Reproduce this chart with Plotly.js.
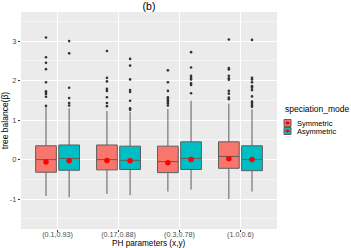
<!DOCTYPE html>
<html>
<head>
<meta charset="utf-8">
<script src="https://cdn.plot.ly/plotly-3.0.1.min.js"></script>
<style>html,body{margin:0;padding:0;background:#fff;}#chart{width:351px;height:248px;}</style>
</head>
<body>
<div id="chart"></div>
<script>
var categories = ["(0.1,0.93)", "(0.17,0.88)", "(0.3,0.78)", "(1.0,0.6)"];
var seriesNames = ["Symmetric", "Asymmetric"];
var seriesColors = ["#F8766D", "#00BFC4"];

var symQ1 = [-0.32, -0.26, -0.33, -0.22];
var symMedian = [0.00, 0.00, -0.05, 0.08];
var symQ3 = [0.35, 0.37, 0.34, 0.45];
var symLower = [-0.92, -0.87, -0.81, -1.00];
var symUpper = [1.32, 1.23, 1.28, 1.42];
var symMean = [-0.06, -0.02, -0.08, 0.02];
var symOutliers = [
  [3.09, 2.59, 2.45, 2.29, 1.96, 1.73, 1.69, 1.66, 1.59, 1.36],
  [2.75, 2.07, 1.98, 1.79, 1.74, 1.58, 1.43, 1.35],
  [2.26, 1.96, 1.74, 1.58, 1.54, 1.50, 1.46, 1.42, 1.37],
  [3.04, 2.32, 2.28, 2.12, 2.06, 2.02, 1.74, 1.67, 1.57, 1.53]
];

var asyQ1 = [-0.27, -0.25, -0.25, -0.28];
var asyMedian = [0.03, -0.02, 0.03, 0.00];
var asyQ3 = [0.37, 0.34, 0.45, 0.35];
var asyLower = [-0.95, -0.90, -0.76, -0.81];
var asyUpper = [1.30, 1.20, 1.49, 1.27];
var asyMean = [-0.03, -0.03, 0.00, 0.00];
var asyOutliers = [
  [3.00, 2.69, 1.82, 1.56, 1.43, 1.37],
  [2.55, 2.38, 2.03, 1.76, 1.71, 1.49, 1.30, 1.26],
  [2.72, 2.33, 2.12, 2.07, 2.03, 1.93, 1.89, 1.68],
  [3.03, 2.07, 2.03, 1.96, 1.86, 1.82, 1.76, 1.60, 1.47, 1.43, 1.38, 1.34]
];

var yTickVals = [-1, 0, 1, 2, 3];

var series = [
  {q1: symQ1, med: symMedian, q3: symQ3, lo: symLower, hi: symUpper, mean: symMean, out: symOutliers},
  {q1: asyQ1, med: asyMedian, q3: asyQ3, lo: asyLower, hi: asyUpper, mean: asyMean, out: asyOutliers}
];
var dodge = [-0.19, 0.19];
var boxW = 0.34;

var traces = [];
series.forEach(function (s, si) {
  var xs = categories.map(function (c, i) { return i + 1 + dodge[si]; });
  traces.push({
    type: 'box', name: seriesNames[si], x: xs,
    q1: s.q1, median: s.med, q3: s.q3, lowerfence: s.lo, upperfence: s.hi,
    width: boxW, fillcolor: seriesColors[si],
    line: {color: '#5e5e5e', width: 1}, boxpoints: false,
    whiskerwidth: 0, showlegend: false, hoverinfo: 'skip'
  });
  var ox = [], oy = [];
  s.out.forEach(function (arr, i) {
    arr.forEach(function (v) { ox.push(xs[i]); oy.push(v); });
  });
  traces.push({
    type: 'scatter', mode: 'markers', x: ox, y: oy,
    marker: {color: '#333333', size: 2.6, symbol: 'circle'},
    showlegend: false, hoverinfo: 'skip'
  });
  traces.push({
    type: 'scatter', mode: 'markers', x: xs, y: s.mean,
    marker: {color: '#FF0000', size: 5.5, symbol: 'circle'},
    showlegend: false, hoverinfo: 'skip'
  });
});

// plot area in pixels
var L = 21, R = 277, T = 12, B = 229, W = 351, H = 248;
function px(x) { return (x - L) / (R - L); }
function py(y) { return (B - y) / (B - T); }

var shapes = [], annotations = [];
// x axis title
annotations.push({xref: 'paper', yref: 'paper', x: 0.5, y: py(243.3), xanchor: 'center', yanchor: 'middle',
  text: 'PH parameters (x,y)', showarrow: false, font: {size: 8.2, color: '#000'}});
// Legend (drawn manually, ggplot style)
annotations.push({xref: 'paper', yref: 'paper', x: px(283), y: py(109), xanchor: 'left', yanchor: 'middle',
  text: 'speciation_mode', showarrow: false, font: {size: 8.5, color: '#000'}});
var keyY = [123, 131];
seriesNames.forEach(function (n, i) {
  shapes.push({type: 'rect', xref: 'paper', yref: 'paper',
    x0: px(284), x1: px(291), y0: py(keyY[i] - 3.5), y1: py(keyY[i] + 3.5),
    fillcolor: seriesColors[i], line: {color: '#5e5e5e', width: 1}});
  shapes.push({type: 'line', xref: 'paper', yref: 'paper',
    x0: px(284), x1: px(291), y0: py(keyY[i]), y1: py(keyY[i]),
    line: {color: '#5e5e5e', width: 1}});
  shapes.push({type: 'circle', xref: 'paper', yref: 'paper',
    x0: px(285.8), x1: px(289.2), y0: py(keyY[i] - 1.7), y1: py(keyY[i] + 1.7),
    fillcolor: '#FF0000', line: {width: 0}});
  annotations.push({xref: 'paper', yref: 'paper', x: px(295), y: py(keyY[i]), xanchor: 'left', yanchor: 'middle',
    text: n, showarrow: false, font: {size: 7.5, color: '#000'}});
});

var layout = {
  width: W, height: H,
  margin: {l: L, r: W - R, t: T, b: H - B, pad: 0},
  paper_bgcolor: '#ffffff', plot_bgcolor: '#EBEBEB',
  font: {family: 'Liberation Sans, Arial, sans-serif', size: 8, color: '#000'},
  showlegend: false,
  boxmode: 'overlay',
  title: {text: '(b)', font: {size: 10.5, color: '#000'}, x: 0.5 * (L + R) / W, xanchor: 'center', y: 1 - 6 / H, yanchor: 'middle'},
  xaxis: {
    range: [0.4, 4.6], tickvals: [1, 2, 3, 4], ticktext: categories,
    showgrid: true, gridcolor: '#ffffff', gridwidth: 1, zeroline: false,
    ticks: 'outside', ticklen: 2, tickcolor: '#333333', tickwidth: 1,
    tickfont: {size: 7.2, color: '#4D4D4D'}, showline: false,
    ticklabelstandoff: -4,
    automargin: false
  },
  yaxis: {
    range: [-1.757, 3.737], tickvals: yTickVals, ticktext: yTickVals.map(String),
    showgrid: true, gridcolor: '#ffffff', gridwidth: 1, zeroline: false,
    minor: {tickvals: [-1.5, -0.5, 0.5, 1.5, 2.5, 3.5], showgrid: true, gridcolor: '#ffffff', gridwidth: 0.5, ticks: ''},
    ticks: 'outside', ticklen: 2, tickcolor: '#333333', tickwidth: 1,
    tickfont: {size: 7.5, color: '#4D4D4D'}, showline: false,
    title: {text: 'tree balance(β)', font: {size: 8.5, color: '#000'}, standoff: 2},
    automargin: false
  },
  shapes: shapes, annotations: annotations
};

Plotly.newPlot('chart', traces, layout, {staticPlot: true, displayModeBar: false});
</script>
</body>
</html>
